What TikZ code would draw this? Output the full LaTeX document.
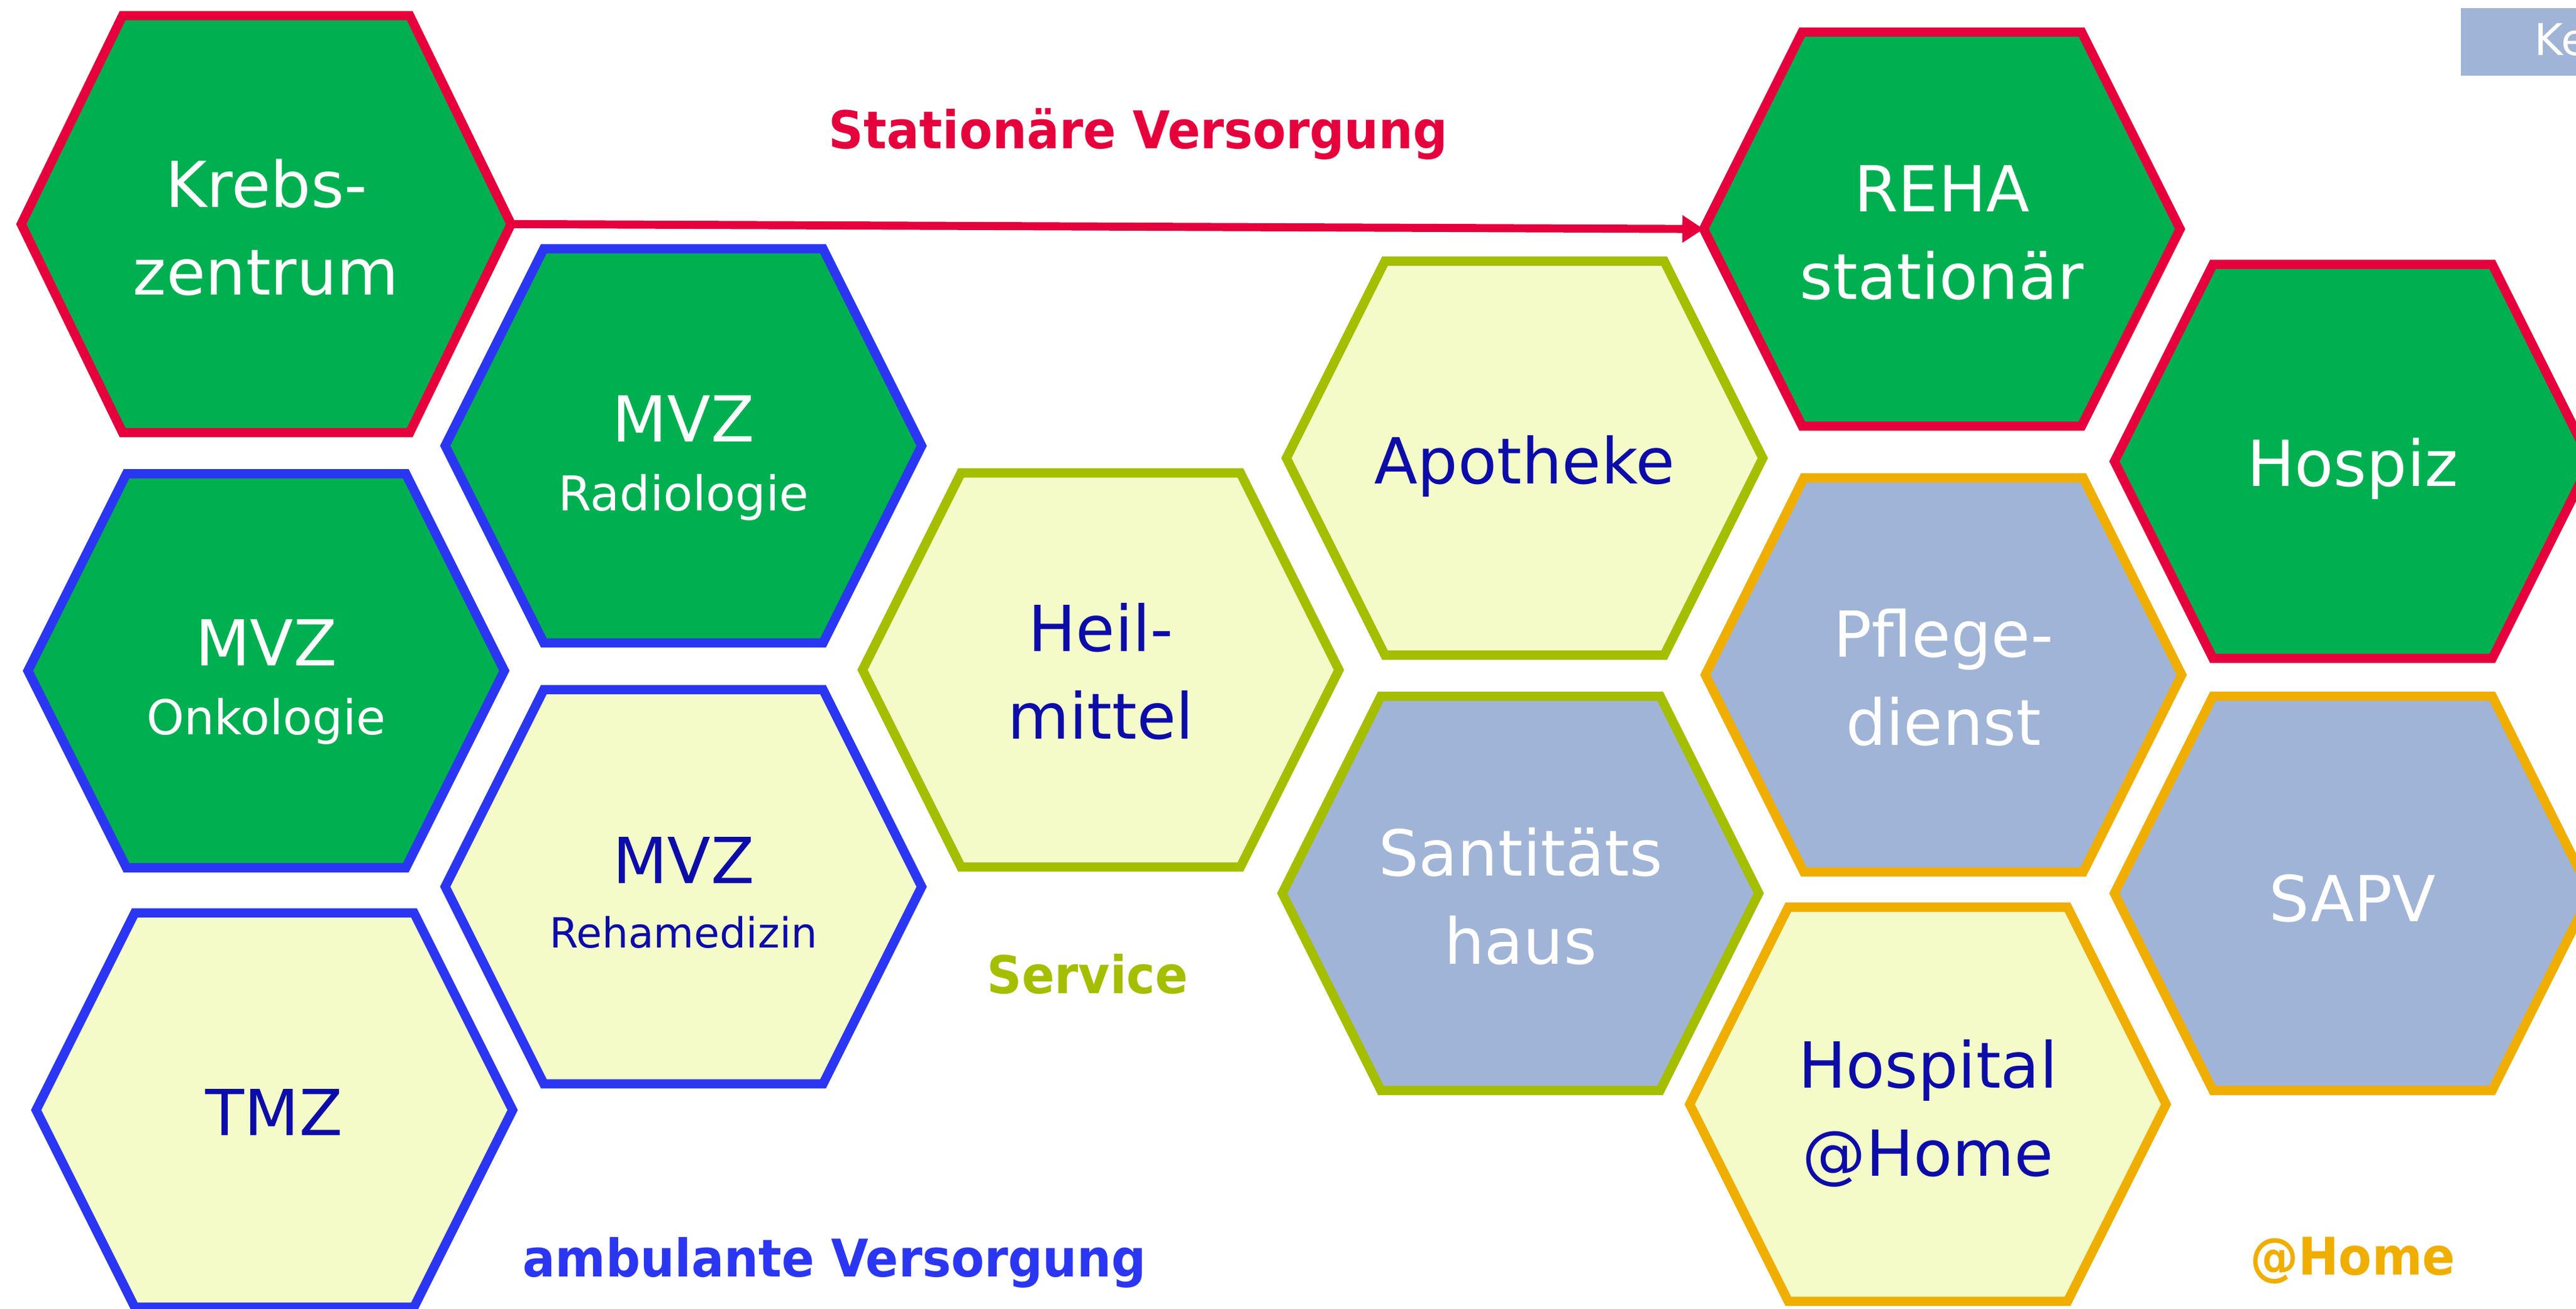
\documentclass[tikz,border=0pt]{standalone}
\usepackage{fontspec}
\setmainfont{DejaVu Sans}
\newfontfamily\labelfont{DejaVu Sans}[FakeStretch=0.93]
\usetikzlibrary{arrows.meta}

\definecolor{cRed}{HTML}{E6003C}
\definecolor{cGreen}{HTML}{00B050}
\definecolor{cBlue}{HTML}{2B36F2}
\definecolor{cNavy}{HTML}{0C0CA8}
\definecolor{cOlive}{HTML}{A5BE00}
\definecolor{cYellow}{HTML}{F4FAC8}
\definecolor{cGrey}{HTML}{A0B4D7}
\definecolor{cOrange}{HTML}{F0AE00}

\newcommand{\hexpath}{(-1.45,0) -- (-0.85,1.2) -- (0.85,1.2) -- (1.45,0) -- (0.85,-1.2) -- (-0.85,-1.2) -- cycle}

\begin{document}
\begin{tikzpicture}[
    hex/.style={line width=1.6pt, line join=miter},
    stat/.style={hex, draw=cRed, fill=cGreen},
    amb/.style={hex, draw=cBlue, fill=cGreen},
    ambl/.style={hex, draw=cBlue, fill=cYellow},
    serv/.style={hex, draw=cOlive, fill=cYellow},
    servb/.style={hex, draw=cOlive, fill=cGrey},
    home/.style={hex, draw=cOrange, fill=cGrey},
    homel/.style={hex, draw=cOrange, fill=cYellow},
    wtxt/.style={text=white, align=center, inner sep=0pt, font=\fontsize{11}{15.2}\selectfont},
    ntxt/.style={wtxt, text=cNavy},
    grp/.style={anchor=base, inner sep=0pt, font=\labelfont\bfseries\fontsize{9}{11}\selectfont}]
    \useasboundingbox (0,0) rectangle (15.68,7.968);
    \clip (0,0) rectangle (15.68,7.968);

    % stationaer
    \draw[stat, shift={(1.62,6.603)}, xscale=1.028, yscale=1.058] \hexpath (1.45,0) coordinate (krebs-e);
    \node[wtxt] (krebs) at (1.62,6.583) {Krebs-\\zentrum};
    \draw[stat, shift={(11.82,6.573)}] \hexpath (-1.45,0) coordinate (reha-w);
    \node[wtxt] (reha) at (11.82,6.55) {REHA\\stationär};
    \draw[stat, shift={(14.32,5.158)}] \hexpath;
    \node[wtxt] (hospiz) at (14.32,5.113) {Hospiz};

    % ambulant
    \draw[amb, shift={(4.16,5.253)}] \hexpath;
    \node[wtxt] (mvzrad) at (4.16,5.178) {MVZ\\[-3.3pt]{\fontsize{8.3}{10}\selectfont Radiologie}};
    \draw[amb, shift={(1.62,3.883)}] \hexpath;
    \node[wtxt] (mvzonk) at (1.62,3.815) {MVZ\\[-3.3pt]{\fontsize{8.3}{10}\selectfont Onkologie}};
    \draw[ambl, shift={(4.16,2.568)}] \hexpath;
    \node[ntxt] (mvzreha) at (4.16,2.53) {MVZ\\[-4pt]{\fontsize{7.2}{9}\selectfont Rehamedizin}};
    \draw[ambl, shift={(1.67,1.208)}] \hexpath;
    \node[ntxt] (tmz) at (1.67,1.193) {TMZ};

    % service
    \draw[serv, shift={(6.70,3.888)}] \hexpath;
    \node[ntxt] (heil) at (6.70,3.878) {Heil-\\mittel};
    \draw[serv, shift={(9.28,5.178)}] \hexpath;
    \node[ntxt] (apo) at (9.28,5.128) {Apotheke};
    \draw[servb, shift={(9.255,2.528)}] \hexpath;
    \node[wtxt] (sani) at (9.255,2.51) {Santitäts\\haus};

    % @home
    \draw[home, shift={(11.83,3.858)}] \hexpath;
    \node[wtxt] (pflege) at (11.83,3.842) {Pflege-\\dienst};
    \draw[homel, shift={(11.735,1.243)}] \hexpath;
    \node[ntxt] (hosp) at (11.735,1.188) {Hospital\\@Home};
    \draw[home, shift={(14.32,2.528)}] \hexpath;
    \node[wtxt] (sapv) at (14.32,2.498) {SAPV};

    \draw[cRed, line width=1.4pt, -{Triangle[length=1.3mm,width=1.6mm]}] (krebs-e) -- (reha-w);

    \node[grp, text=cRed] (stattxt) at (6.93,7.064) {Stationäre Versorgung};
    \node[grp, text=cOlive] (servtxt) at (6.62,1.918) {Service};
    \node[grp, text=cBlue] (ambtxt) at (5.08,0.191) {ambulante Versorgung};
    \node[grp, text=cOrange] (hometxt) at (14.32,0.204) {@Home};

    \fill[cGrey] (14.98,7.918) rectangle (15.8,7.508);
    \node[anchor=base west, inner sep=0pt, text=white, font=\fontsize{7.6}{9}\selectfont] (ke) at (15.42,7.632) {Ke};
\end{tikzpicture}
\end{document}
